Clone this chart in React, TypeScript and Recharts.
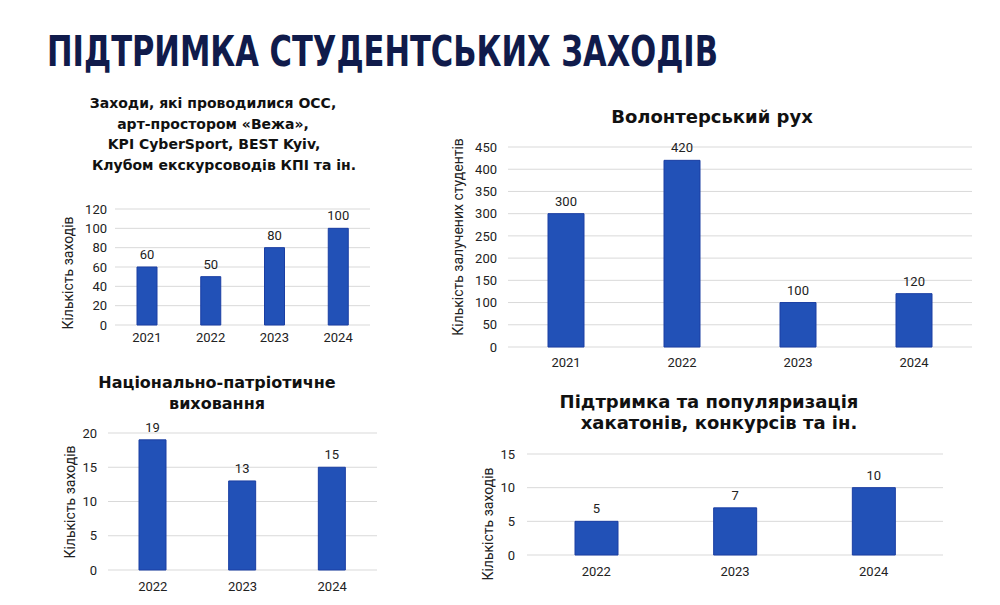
import { BarChart, Bar, XAxis, YAxis, CartesianGrid, LabelList } from "recharts";

const orgYears = ["2021", "2022", "2023", "2024"];
const orgEvents = [60, 50, 80, 100];
const orgTicks = [0, 20, 40, 60, 80, 100, 120];

const volYears = ["2021", "2022", "2023", "2024"];
const volStudents = [300, 420, 100, 120];
const volTicks = [0, 50, 100, 150, 200, 250, 300, 350, 400, 450];

const patYears = ["2022", "2023", "2024"];
const patEvents = [19, 13, 15];
const patTicks = [0, 5, 10, 15, 20];

const hackYears = ["2022", "2023", "2024"];
const hackEvents = [5, 7, 10];
const hackTicks = [0, 5, 10, 15];

const BAR = "#2251b7";
const BAR_EDGE = "#1a3ea3";
const GRID = "#d9d9d9";
const TEXT = "#222";
const FONT = "Roboto, 'Open Sans', sans-serif";
const TITLE_FONT = "'DejaVu Sans', 'Open Sans', sans-serif";

const Y_W = 60;
const TOP_PAD = 20;
const X_H = 40;

interface PanelProps {
  years: string[];
  values: number[];
  ticks: number[];
  // plot rectangle on the page
  x0: number;
  x1: number;
  y0: number;
  y1: number;
  barSize: number;
  tickGap: number;
  xTickMargin: number;
}

function Panel({ years, values, ticks, x0, x1, y0, y1, barSize, tickGap, xTickMargin }: PanelProps) {
  const data = years.map((year, i) => ({ year, value: values[i] }));
  const width = x1 - x0 + Y_W + 10;
  const height = y1 - y0 + TOP_PAD + X_H;
  return (
    <div style={{ position: "absolute", left: x0 - Y_W, top: y0 - TOP_PAD }}>
      <BarChart
        width={width}
        height={height}
        data={data}
        margin={{ top: TOP_PAD, right: 10, left: 0, bottom: 0 }}
      >
        <CartesianGrid vertical={false} stroke={GRID} />
        <XAxis
          dataKey="year"
          axisLine={false}
          tickLine={false}
          height={X_H}
          interval={0}
          tickMargin={xTickMargin}
          tick={{ fill: TEXT, fontSize: 13, fontFamily: FONT }}
        />
        <YAxis
          width={Y_W}
          domain={[ticks[0], ticks[ticks.length - 1]]}
          ticks={ticks}
          interval={0}
          axisLine={false}
          tickLine={false}
          tickMargin={tickGap}
          tick={{ fill: TEXT, fontSize: 13, fontFamily: FONT }}
        />
        <Bar
          dataKey="value"
          fill={BAR}
          stroke={BAR_EDGE}
          strokeWidth={1}
          barSize={barSize}
          isAnimationActive={false}
        >
          <LabelList
            dataKey="value"
            position="top"
            offset={8}
            style={{ fill: TEXT, fontSize: 13, fontFamily: FONT }}
          />
        </Bar>
      </BarChart>
    </div>
  );
}

// multi-line chart title; shifts nudge single lines sideways like in the slide
function Title({
  lines,
  shifts,
  cx,
  top,
  size,
  lineHeight,
}: {
  lines: string[];
  shifts?: number[];
  cx: number;
  top: number;
  size: number;
  lineHeight: number;
}) {
  return (
    <div
      style={{
        position: "absolute",
        left: cx,
        top,
        transform: "translateX(-50%)",
        textAlign: "center",
        whiteSpace: "nowrap",
        fontFamily: TITLE_FONT,
        fontWeight: 700,
        fontSize: size,
        lineHeight: `${lineHeight}px`,
        color: "#111",
      }}
    >
      {lines.map((l, i) => (
        <div key={i} style={{ position: "relative", left: shifts ? shifts[i] : 0 }}>
          {l}
        </div>
      ))}
    </div>
  );
}

function AxisTitle({ text, cx, cy }: { text: string; cx: number; cy: number }) {
  return (
    <div
      style={{
        position: "absolute",
        left: cx,
        top: cy,
        transform: "translate(-50%, -50%) rotate(-90deg)",
        whiteSpace: "nowrap",
        fontFamily: FONT,
        fontSize: 14,
        lineHeight: 1,
        color: TEXT,
      }}
    >
      {text}
    </div>
  );
}

export default function App() {
  return (
    <div
      style={{
        position: "absolute",
        left: 0,
        top: 0,
        width: 1000,
        height: 605,
        background: "#fff",
        overflow: "hidden",
      }}
    >
      <svg width={1000} height={90} style={{ position: "absolute", left: 0, top: 0 }}>
        <text
          x={47}
          y={66}
          textLength={671}
          lengthAdjust="spacingAndGlyphs"
          fill="#101b4b"
          fontFamily="'Liberation Sans Narrow', 'DejaVu Sans Condensed', sans-serif"
          fontWeight={700}
          fontSize={42}
        >
          ПІДТРИМКА СТУДЕНТСЬКИХ ЗАХОДІВ
        </text>
      </svg>

      {/* top left */}
      <Title
        lines={[
          "Заходи, які проводилися ОСС,",
          "арт-простором «Вежа»,",
          "KPI CyberSport, BEST Kyiv,",
          "Клубом екскурсоводів КПІ та ін.",
        ]}
        shifts={[-5, -5, -4, 6]}
        cx={218}
        top={93}
        size={14}
        lineHeight={20.7}
      />
      <AxisTitle text="Кількість заходів" cx={68} cy={273} />
      <Panel
        years={orgYears}
        values={orgEvents}
        ticks={orgTicks}
        x0={115}
        x1={370}
        y0={209}
        y1={325}
        barSize={20}
        tickGap={2}
        xTickMargin={2}
      />

      {/* top right */}
      <Title lines={["Волонтерський рух"]} cx={712} top={105} size={18} lineHeight={24} />
      <AxisTitle text="Кількість залучених студентів" cx={458} cy={237} />
      <Panel
        years={volYears}
        values={volStudents}
        ticks={volTicks}
        x0={508}
        x1={972}
        y0={147}
        y1={347}
        barSize={36}
        tickGap={5}
        xTickMargin={5}
      />

      {/* bottom left */}
      <Title
        lines={["Національно-патріотичне", "виховання"]}
        cx={217}
        top={372}
        size={16}
        lineHeight={21}
      />
      <AxisTitle text="Кількість заходів" cx={70} cy={502} />
      <Panel
        years={patYears}
        values={patEvents}
        ticks={patTicks}
        x0={108}
        x1={377}
        y0={433}
        y1={570}
        barSize={27}
        tickGap={5}
        xTickMargin={6}
      />

      {/* bottom right */}
      <Title
        lines={["Підтримка та популяризація", "хакатонів, конкурсів та ін."]}
        shifts={[-5, 5]}
        cx={714}
        top={391}
        size={18}
        lineHeight={21}
      />
      <AxisTitle text="Кількість заходів" cx={488} cy={524} />
      <Panel
        years={hackYears}
        values={hackEvents}
        ticks={hackTicks}
        x0={527}
        x1={943}
        y0={454}
        y1={555}
        barSize={43}
        tickGap={6}
        xTickMargin={6}
      />
    </div>
  );
}
